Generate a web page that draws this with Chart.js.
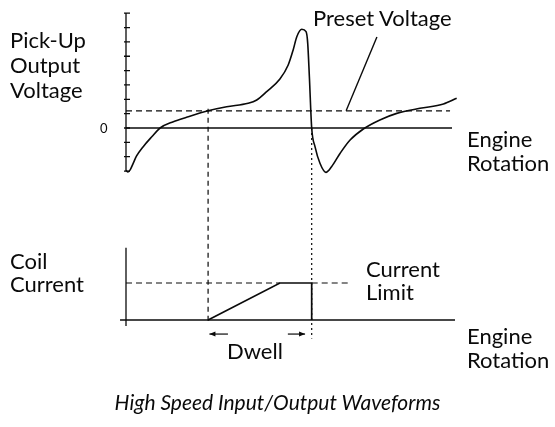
<!DOCTYPE html>
<html>
<head>
<meta charset="utf-8">
<title>High Speed Input/Output Waveforms</title>
<script src="https://cdn.jsdelivr.net/npm/chart.js"></script>
<style>
  body {
    margin: 0;
    background: #fff;
    font-family: Lato, "Open Sans", sans-serif;
    color: #0a0a0a;
  }
  #wrap {
    position: relative;
    width: 555px;
    height: 427px;
    overflow: hidden;
  }
  canvas {
    position: absolute;
    left: 0;
    top: 0;
  }
  .lbl {
    position: absolute;
    font-size: 22px;
    line-height: 24px;
    white-space: nowrap;
  }
  .zero {
    position: absolute;
    font-size: 13px;
    left: 100px;
    top: 120px;
  }
  .title {
    position: absolute;
    left: 0;
    width: 555px;
    text-align: center;
    top: 389px;
    font-size: 21px;
    font-style: italic;
  }
</style>
</head>
<body>
<div id="wrap">
  <canvas id="c" width="555" height="427"></canvas>
  <div class="lbl" style="left:10px;top:27px;line-height:25px">Pick-Up<br>Output<br>Voltage</div>
  <div class="zero">0</div>
  <div class="lbl" style="left:313px;top:6px">Preset Voltage</div>
  <div class="lbl" style="left:467px;top:127px">Engine<br>Rotation</div>
  <div class="lbl" style="left:10px;top:249px;line-height:23px">Coil<br>Current</div>
  <div class="lbl" style="left:366px;top:257px;line-height:23px">Current<br>Limit</div>
  <div class="lbl" style="left:467px;top:324px">Engine<br>Rotation</div>
  <div class="lbl" style="left:227px;top:339px">Dwell</div>
  <div class="title">High Speed Input/Output Waveforms</div>
</div>
<script>
// engine rotation (arbitrary units, 0 = start of trace)
const angle   = [0, 0.6, 1.3, 2.2, 3.2, 5.2, 7.8, 10.3, 14.3, 18.3, 24.8, 30.4, 36.9, 39.5, 42.5, 46.5, 49.0, 50.5, 51.6, 53.1, 54.4, 54.9, 55.4, 56.1, 57.1, 58.6, 60.4, 62.1, 64.7, 67.7, 71.7, 76.7, 81.8, 88.8, 95.9, 99.9];
// pick-up output voltage (one unit = one axis tick)
const voltage = [-2.95, -3.07, -2.9, -2.45, -1.95, -1.3, -0.61, 0, 0.44, 0.75, 1.2, 1.48, 1.72, 1.95, 2.53, 3.41, 4.39, 5.44, 6.36, 6.88, 6.71, 5.9, 3.57, 0, -1.3, -2.46, -3.09, -2.7, -1.76, -0.84, -0.07, 0.56, 1.02, 1.37, 1.67, 2.07];
const presetVoltage = 1.2;
const voltTicks = [-3, -2, -1, 0, 1, 2, 3, 4, 5, 6, 7, 8];

// coil current (1 = current limit)
const dwellStart = 24.8;
const limitReached = 46.5;
const sparkAt = 56.1;
const currentAngle = [dwellStart, limitReached, sparkAt, sparkAt];
const current      = [0, 1, 1, 0];
const currentLimit = 1;

// layout of the drawing on the canvas
const W = 555, H = 427;
const X0 = 126, XPX = 3.31;          // px of angle 0, px per unit
const V0 = 128, VPX = 14.35;         // px of 0 V, px per tick
const I0 = 320, IPX = 37;            // px of 0 A, px per limit

const ink = "#0a0a0a";
const pts = (xs, ys) => xs.map((x, i) => ({ x, y: ys[i] }));

const diagram = {
  id: "diagram",
  afterDatasetsDraw(chart) {
    const { ctx } = chart;
    const x = chart.scales.x, yV = chart.scales.yV, yI = chart.scales.yI;
    const ax = x.getPixelForValue(0);
    ctx.save();
    ctx.strokeStyle = ink;
    ctx.fillStyle = ink;
    ctx.lineWidth = 1.3;

    // voltage axis with ticks
    ctx.beginPath();
    ctx.moveTo(ax, yV.getPixelForValue(-3));
    ctx.lineTo(ax, yV.getPixelForValue(8));
    voltTicks.forEach((t) => {
      const py = yV.getPixelForValue(t);
      ctx.moveTo(ax - 2, py);
      ctx.lineTo(ax + 4, py);
    });
    ctx.stroke();

    // current axis
    ctx.beginPath();
    ctx.moveTo(ax, yI.getPixelForValue(-0.16));
    ctx.lineTo(ax, yI.getPixelForValue(1.95));
    ctx.stroke();

    // connector from preset crossing to dwell start
    ctx.lineWidth = 1.2;
    ctx.setLineDash([5, 4]);
    ctx.beginPath();
    ctx.moveTo(x.getPixelForValue(dwellStart), yV.getPixelForValue(presetVoltage + 0.15));
    ctx.lineTo(x.getPixelForValue(dwellStart), yI.getPixelForValue(-0.12));
    ctx.stroke();

    // connector from zero crossing to spark
    ctx.setLineDash([2, 3]);
    ctx.beginPath();
    ctx.moveTo(x.getPixelForValue(sparkAt), yV.getPixelForValue(0));
    ctx.lineTo(x.getPixelForValue(sparkAt), yI.getPixelForValue(-0.5));
    ctx.stroke();
    ctx.setLineDash([]);

    // dwell arrows
    const ay = yI.getPixelForValue(-0.38);
    const arrow = (from, to) => {
      const px1 = x.getPixelForValue(from), px2 = x.getPixelForValue(to);
      const d = Math.sign(px2 - px1);
      ctx.beginPath();
      ctx.moveTo(px1, ay);
      ctx.lineTo(px2, ay);
      ctx.stroke();
      ctx.beginPath();
      ctx.moveTo(px2, ay);
      ctx.lineTo(px2 - d * 6, ay - 2.5);
      ctx.lineTo(px2 - d * 6, ay + 2.5);
      ctx.closePath();
      ctx.fill();
    };
    arrow(30.8, dwellStart + 0.4);
    arrow(48.9, sparkAt - 2);
    ctx.restore();
  }
};

const line = (data, axis, extra) => Object.assign({
  data,
  yAxisID: axis,
  borderColor: ink,
  borderWidth: 1.5,
  pointRadius: 0,
  fill: false,
  tension: 0
}, extra);

new Chart(document.getElementById("c"), {
  type: "line",
  data: {
    datasets: [
      line(pts(angle, voltage), "yV", { cubicInterpolationMode: "monotone", borderWidth: 1.6 }),
      line([{ x: 0, y: 0 }, { x: 98.5, y: 0 }], "yV", { borderWidth: 1.3 }),
      line([{ x: 0, y: presetVoltage }, { x: 97.9, y: presetVoltage }], "yV", { borderDash: [6, 4], borderWidth: 1.2 }),
      line([{ x: 66.5, y: presetVoltage }, { x: 75.8, y: 6.34 }], "yV", { borderWidth: 1.4 }),
      line([{ x: -1.8, y: 0 }, { x: 99.4, y: 0 }], "yI", { borderWidth: 1.3 }),
      line([{ x: 0, y: currentLimit }, { x: limitReached, y: currentLimit }, { x: limitReached, y: null },
            { x: sparkAt, y: currentLimit }, { x: 67.1, y: currentLimit }], "yI", { borderDash: [6, 4], borderWidth: 1.2, spanGaps: false }),
      line(pts(currentAngle, current), "yI", { borderWidth: 1.7 })
    ]
  },
  options: {
    responsive: false,
    animation: false,
    events: [],
    layout: { padding: 0 },
    plugins: { legend: { display: false }, tooltip: { enabled: false } },
    scales: {
      x: { type: "linear", display: false, min: -X0 / XPX, max: (W - X0) / XPX },
      yV: { type: "linear", display: false, min: (V0 - H) / VPX, max: V0 / VPX },
      yI: { type: "linear", display: false, min: (I0 - H) / IPX, max: I0 / IPX }
    }
  },
  plugins: [diagram]
});
</script>
</body>
</html>
